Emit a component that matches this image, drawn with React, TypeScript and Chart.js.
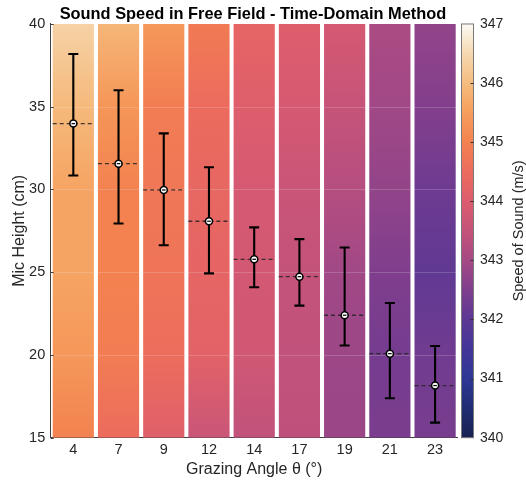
import React, { useEffect, useRef } from 'react';
import { Chart, registerables } from 'chart.js';

Chart.register(...registerables);

// ---------- data ----------
const ANGLES = ['4', '7', '9', '12', '14', '17', '19', '21', '23'];
const MEAN_HEIGHT = [33.98, 31.56, 29.97, 28.08, 25.78, 24.73, 22.4, 20.08, 18.15];
const UPPER_HEIGHT = [38.19, 36.0, 33.39, 31.34, 27.71, 27.0, 26.49, 23.14, 20.54];
const LOWER_HEIGHT = [30.84, 27.94, 26.63, 24.93, 24.09, 22.98, 20.57, 17.38, 15.91];

// speed of sound (m/s) sampled at these heights (cm) in each column
const PROFILE_HEIGHTS = [40, 35, 30, 25, 20, 15];
const SPEED_4 = [346.4, 345.95, 345.6, 345.6, 345.4, 345.0];
const SPEED_7 = [345.9, 345.35, 345.0, 345.0, 344.9, 344.5];
const SPEED_9 = [345.4, 344.9, 344.75, 344.7, 344.55, 344.1];
const SPEED_12 = [344.85, 344.5, 344.35, 344.3, 344.2, 343.6];
const SPEED_14 = [344.3, 344.05, 343.85, 343.8, 343.75, 343.45];
const SPEED_17 = [344.05, 343.85, 343.6, 343.5, 343.45, 343.4];
const SPEED_19 = [343.85, 343.55, 343.25, 342.95, 342.9, 342.85];
const SPEED_21 = [343.1, 342.95, 342.75, 342.5, 342.35, 342.45];
const SPEED_23 = [342.75, 342.55, 342.25, 342.05, 342.3, 342.4];
const SPEED_PROFILES = [SPEED_4, SPEED_7, SPEED_9, SPEED_12, SPEED_14, SPEED_17, SPEED_19, SPEED_21, SPEED_23];

const Y_MIN = 15;
const Y_MAX = 40;
const CB_MIN = 340;
const CB_MAX = 347;

// colormap
const CMAP_VALUES = [340, 340.5, 341, 341.5, 342, 342.5, 343, 343.5, 344, 344.5, 345, 345.5, 346, 346.5, 347];
const CMAP_COLORS = [
  '#172251', '#1f2d73', '#2e3795', '#433699', '#5c3894', '#7f3e8d', '#a54985', '#c4537a',
  '#dc5c6e', '#ec6b5d', '#f38250', '#f69e5c', '#f5bc7f', '#f6d8b0', '#fbfaf4',
];

const FONT = '"Liberation Sans", Arial, Helvetica, sans-serif';
const TEXT = '#262626';

function hexToRgb(h: string): number[] {
  const n = parseInt(h.slice(1), 16);
  return [(n >> 16) & 255, (n >> 8) & 255, n & 255];
}
const CMAP_RGB = CMAP_COLORS.map(hexToRgb);

function cmap(v: number): string {
  const vv = Math.max(CMAP_VALUES[0], Math.min(CMAP_VALUES[CMAP_VALUES.length - 1], v));
  let i = 0;
  while (i < CMAP_VALUES.length - 2 && vv > CMAP_VALUES[i + 1]) i++;
  const t = (vv - CMAP_VALUES[i]) / (CMAP_VALUES[i + 1] - CMAP_VALUES[i]);
  const a = CMAP_RGB[i];
  const b = CMAP_RGB[i + 1];
  const c = a.map((x, k) => Math.round(x + (b[k] - x) * t));
  return `rgb(${c[0]},${c[1]},${c[2]})`;
}

const overlayPlugin = {
  id: 'overlay',
  beforeDatasetDraw(chart: any, args: any) {
    if (args.index !== 1) return;
    const { ctx, chartArea, scales } = chart;
    const xs = scales.x;
    const ys = scales.y;
    ctx.save();
    // grid lines
    ctx.strokeStyle = 'rgba(235,235,235,0.2)';
    ctx.lineWidth = 1;
    ys.ticks.forEach((t: any) => {
      if (t.value === Y_MIN || t.value === Y_MAX) return;
      const py = Math.round(ys.getPixelForValue(t.value)) + 0.5;
      ctx.beginPath();
      ctx.moveTo(chartArea.left, py);
      ctx.lineTo(chartArea.right, py);
      ctx.stroke();
    });
    // inward tick marks on left axis
    ctx.strokeStyle = '#404040';
    ys.ticks.forEach((t: any) => {
      const py = Math.round(ys.getPixelForValue(t.value)) + 0.5;
      ctx.beginPath();
      ctx.moveTo(chartArea.left, py);
      ctx.lineTo(chartArea.left + 3, py);
      ctx.stroke();
    });
    // dashed mean lines
    const barMeta = chart.getDatasetMeta(0);
    ctx.setLineDash([4, 3]);
    ctx.strokeStyle = 'rgba(35,35,35,0.85)';
    ctx.lineWidth = 1.3;
    barMeta.data.forEach((bar: any, i: number) => {
      const py = ys.getPixelForValue(MEAN_HEIGHT[i]);
      ctx.beginPath();
      ctx.moveTo(bar.x - bar.width / 2, py);
      ctx.lineTo(bar.x + bar.width / 2, py);
      ctx.stroke();
    });
    // error bars
    ctx.setLineDash([]);
    ctx.strokeStyle = '#000';
    ctx.lineWidth = 2.1;
    ANGLES.forEach((_, i) => {
      const cx = xs.getPixelForValue(i);
      const top = ys.getPixelForValue(UPPER_HEIGHT[i]);
      const bot = ys.getPixelForValue(LOWER_HEIGHT[i]);
      ctx.beginPath();
      ctx.moveTo(cx, top);
      ctx.lineTo(cx, bot);
      ctx.moveTo(cx - 5, top);
      ctx.lineTo(cx + 5, top);
      ctx.moveTo(cx - 5, bot);
      ctx.lineTo(cx + 5, bot);
      ctx.stroke();
    });
    ctx.restore();
  },
  afterDatasetDraw(chart: any, args: any) {
    if (args.index !== 1) return;
    const { ctx } = chart;
    const meta = chart.getDatasetMeta(1);
    ctx.save();
    ctx.strokeStyle = '#111';
    ctx.lineWidth = 1.3;
    meta.data.forEach((p: any) => {
      ctx.beginPath();
      ctx.moveTo(p.x - 1.8, p.y);
      ctx.lineTo(p.x + 1.8, p.y);
      ctx.stroke();
    });
    ctx.restore();
  },
  afterDraw(chart: any) {
    const { ctx } = chart;
    const cb = chart.scales.cb;
    const top = cb.getPixelForValue(CB_MAX);
    const bot = cb.getPixelForValue(CB_MIN);
    const left = cb.left + 3.8;
    const w = 12;
    ctx.save();
    const g = ctx.createLinearGradient(0, bot, 0, top);
    for (let k = 0; k <= 70; k++) {
      const v = CB_MIN + ((CB_MAX - CB_MIN) * k) / 70;
      g.addColorStop(k / 70, cmap(v));
    }
    ctx.fillStyle = g;
    ctx.fillRect(left, top, w, bot - top);
    ctx.strokeStyle = '#7a7a7a';
    ctx.lineWidth = 1;
    ctx.strokeRect(left, top, w, bot - top);
    ctx.strokeStyle = '#333';
    cb.ticks.forEach((t: any) => {
      if (t.value === CB_MIN || t.value === CB_MAX) return;
      const py = Math.round(cb.getPixelForValue(t.value)) + 0.5;
      ctx.beginPath();
      ctx.moveTo(left + w - 3, py);
      ctx.lineTo(left + w, py);
      ctx.stroke();
    });
    ctx.translate(519, (top + bot) / 2);
    ctx.rotate(-Math.PI / 2);
    ctx.fillStyle = TEXT;
    ctx.font = `14.5px ${FONT}`;
    ctx.textAlign = 'center';
    ctx.textBaseline = 'middle';
    ctx.fillText('Speed of Sound (m/s)', 0, 0);
    ctx.restore();
  },
};

export default function App() {
  const ref = useRef<HTMLCanvasElement | null>(null);

  useEffect(() => {
    if (!ref.current) return;
    const chart = new Chart(ref.current, {
      type: 'bar',
      data: {
        labels: ANGLES,
        datasets: [
          {
            type: 'bar',
            data: ANGLES.map(() => [Y_MIN, Y_MAX]) as any,
            borderWidth: 0,
            barPercentage: 0.911,
            categoryPercentage: 1,
            order: 2,
            backgroundColor: (c: any) => {
              const chart = c.chart;
              const ys = chart.scales?.y;
              if (!chart.chartArea || !ys) return 'rgba(0,0,0,0)';
              const prof = SPEED_PROFILES[c.dataIndex];
              if (!prof) return 'rgba(0,0,0,0)';
              const y0 = ys.getPixelForValue(Y_MAX);
              const y1 = ys.getPixelForValue(Y_MIN);
              const g = chart.ctx.createLinearGradient(0, y0, 0, y1);
              PROFILE_HEIGHTS.forEach((h, k) => {
                const off = (Y_MAX - h) / (Y_MAX - Y_MIN);
                g.addColorStop(off, cmap(prof[k]));
              });
              return g;
            },
          } as any,
          {
            type: 'line',
            data: MEAN_HEIGHT,
            showLine: false,
            order: 1,
            pointRadius: 3.5,
            pointBorderWidth: 1.5,
            pointBackgroundColor: '#ffffff',
            pointBorderColor: '#000000',
            pointStyle: 'circle',
          } as any,
        ],
      },
      options: {
        animation: false,
        responsive: false,
        events: [],
        layout: { padding: { left: 0, right: 20, top: 0, bottom: 0 }, autoPadding: false },
        plugins: {
          legend: { display: false },
          tooltip: { enabled: false },
          title: {
            display: true,
            text: 'Sound Speed in Free Field - Time-Domain Method',
            color: '#000',
            font: { family: FONT, size: 16.4, weight: 'bold' },
            padding: { top: 4.3, bottom: 0 },
          },
        },
        scales: {
          x: {
            type: 'category',
            offset: true,
            z: 1,
            grid: { display: false, drawTicks: false },
            border: { display: true, color: '#404040', width: 1 },
            ticks: { color: TEXT, font: { family: FONT, size: 14.5 }, padding: 4, maxRotation: 0 },
            title: {
              display: true,
              text: 'Grazing Angle θ (°)',
              color: TEXT,
              font: { family: FONT, size: 16 },
              padding: { top: 0, bottom: 3 },
            },
            afterFit: (s: any) => {
              s.height = 44.3;
            },
          },
          y: {
            type: 'linear',
            position: 'left',
            min: Y_MIN,
            max: Y_MAX,
            z: 1,
            grid: { display: false, drawTicks: false },
            border: { display: true, color: '#404040', width: 1 },
            ticks: { stepSize: 5, color: TEXT, font: { family: FONT, size: 14.5 }, padding: 5.5 },
            title: {
              display: true,
              text: 'Mic Height (cm)',
              color: TEXT,
              font: { family: FONT, size: 16 },
              padding: { top: 9.5, bottom: 0 },
            },
            afterFit: (s: any) => {
              s.width = 50.7;
            },
          },
          cb: {
            type: 'linear',
            position: 'right',
            min: CB_MIN,
            max: CB_MAX,
            grid: { display: false, drawTicks: true, tickLength: 19.3 },
            border: { display: false },
            ticks: { stepSize: 1, color: TEXT, font: { family: FONT, size: 14 }, padding: 3 },
            afterFit: (s: any) => {
              s.width = 48.3;
            },
          },
        },
      } as any,
      plugins: [overlayPlugin],
    });
    return () => chart.destroy();
  }, []);

  return (
    <div style={{ position: 'fixed', left: 0, top: 0, width: 526, height: 482, background: '#fff' }}>
      <canvas ref={ref} width={526} height={482} />
    </div>
  );
}
